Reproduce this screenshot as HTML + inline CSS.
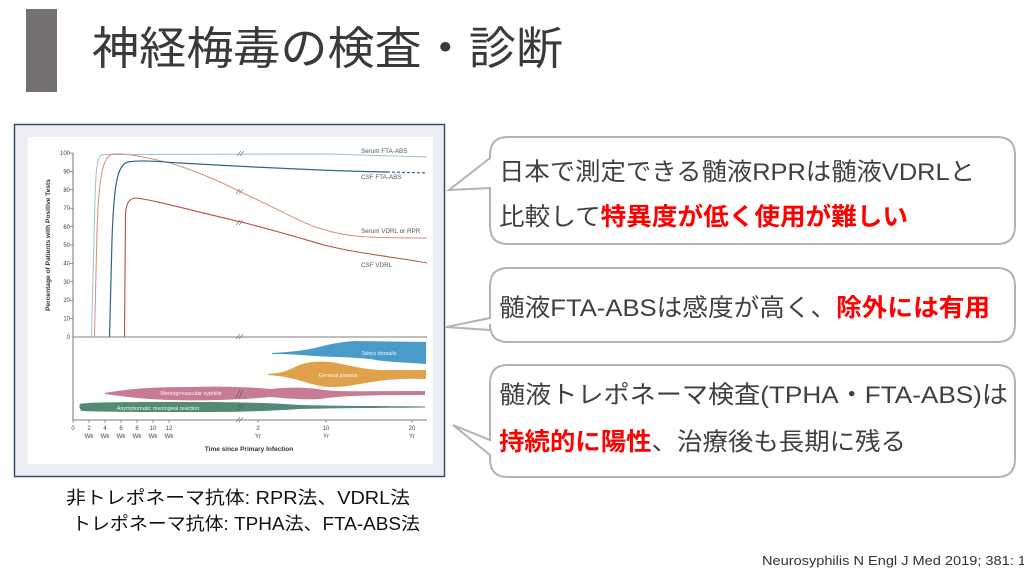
<!DOCTYPE html>
<html><head><meta charset="utf-8"><style>
html,body{margin:0;padding:0;background:#fff;width:1024px;height:576px;overflow:hidden}
svg{display:block}
.jp{font-family:"Liberation Sans","Noto Sans CJK JP",sans-serif}
</style></head><body>
<svg width="1024" height="576" viewBox="0 0 1024 576" xmlns="http://www.w3.org/2000/svg" class="jp">
<rect x="0" y="0" width="1024" height="576" fill="#fff"/>
<rect x="26" y="9" width="31" height="83" fill="#767171"/>
<text x="92" y="64" font-size="45" fill="#3a3a3a" class="jp" textLength="471" lengthAdjust="spacingAndGlyphs">神経梅毒の検査・診断</text>

<rect x="14.5" y="124.5" width="430" height="352" fill="#eceef1" stroke="#3d4b78" stroke-width="1.5"/>
<rect x="28" y="137" width="405" height="327" fill="#fff"/>

<g font-family="Liberation Sans, sans-serif">
<line x1="73" y1="153" x2="73" y2="420" stroke="#555" stroke-width="0.8"/>
<line x1="73" y1="337" x2="427" y2="337" stroke="#555" stroke-width="0.8"/>
<line x1="73" y1="420" x2="427" y2="420" stroke="#555" stroke-width="0.8"/>
<g font-size="6" fill="#444" text-anchor="end">
<text x="70" y="155">100</text><text x="70" y="173.5">90</text><text x="70" y="192">80</text><text x="70" y="210">70</text><text x="70" y="229">60</text><text x="70" y="247">50</text><text x="70" y="265.5">40</text><text x="70" y="284">30</text><text x="70" y="302">20</text><text x="70" y="320.5">10</text><text x="70" y="339">0</text>
</g>
<g stroke="#555" stroke-width="0.6">
<line x1="70" y1="153" x2="73" y2="153"/><line x1="70" y1="171.4" x2="73" y2="171.4"/><line x1="70" y1="189.8" x2="73" y2="189.8"/><line x1="70" y1="208.2" x2="73" y2="208.2"/><line x1="70" y1="226.6" x2="73" y2="226.6"/><line x1="70" y1="245" x2="73" y2="245"/><line x1="70" y1="263.4" x2="73" y2="263.4"/><line x1="70" y1="281.8" x2="73" y2="281.8"/><line x1="70" y1="300.2" x2="73" y2="300.2"/><line x1="70" y1="318.6" x2="73" y2="318.6"/>
<line x1="73" y1="420" x2="73" y2="423"/><line x1="89" y1="420" x2="89" y2="423"/><line x1="105" y1="420" x2="105" y2="423"/><line x1="121" y1="420" x2="121" y2="423"/><line x1="137" y1="420" x2="137" y2="423"/><line x1="153" y1="420" x2="153" y2="423"/><line x1="169" y1="420" x2="169" y2="423"/><line x1="258" y1="420" x2="258" y2="423"/><line x1="326" y1="420" x2="326" y2="423"/><line x1="412" y1="420" x2="412" y2="423"/>
</g>
<text transform="translate(50,245) rotate(-90)" font-size="6.6" font-weight="bold" fill="#333" text-anchor="middle">Percentage of Patients with Positive Tests</text>
<g font-size="6" fill="#444" text-anchor="middle">
<text x="73" y="430">0</text><text x="89" y="430">2</text><text x="105" y="430">4</text><text x="121" y="430">6</text><text x="137" y="430">8</text><text x="153" y="430">10</text><text x="169" y="430">12</text>
<text x="89" y="438">Wk</text><text x="105" y="438">Wk</text><text x="121" y="438">Wk</text><text x="137" y="438">Wk</text><text x="153" y="438">Wk</text><text x="169" y="438">Wk</text>
<text x="258" y="430">2</text><text x="326" y="430">10</text><text x="412" y="430">20</text>
<text x="258" y="438">Yr</text><text x="326" y="438">Yr</text><text x="412" y="438">Yr</text>
</g>
<text x="249" y="451" font-size="6.5" font-weight="bold" fill="#333" text-anchor="middle">Time since Primary Infection</text>

<path d="M272,353 C290,352 300,351 315,348 C330,344 340,342 355,341 L426,342 L426,364 C400,362 385,362 370,359 C350,357 330,357 315,356 C300,355 290,354 272,354 Z" fill="#4b9bca"/>
<path d="M268,374 C280,373 285,372 295,367 C305,362 315,361 330,362 C345,364 360,369 380,370 L426,370 L426,379 C400,378 380,380 360,384 C345,387 330,388 320,386 C305,383 295,377 268,375 Z" fill="#e0a14b"/>
<path d="M105,393 C130,388 160,387 190,387 C220,386 250,387 270,389 C290,387 305,387 325,390 C340,392 360,391 425,391 L425,395 C360,395 340,396 320,399 C300,400 285,398 270,397 C240,400 200,401 170,400 C140,399 120,396 105,394 Z" fill="#c87c93"/>
<path d="M80,404 C85,402 130,402 200,402 C240,402 270,403 300,405 C340,406 380,406 425,406.5 L425,407.5 C380,408 340,408 300,409 C270,411 240,412 200,412 C140,412 100,412 82,411 C79,409 79,406 80,404 Z" fill="#528b73"/>
<g font-size="5.5" fill="#fff" text-anchor="middle" opacity="0.9">
<text x="379" y="355">Tabes dorsalis</text>
<text x="338" y="377">General paresis</text>
<text x="191" y="395">Meningovascular syphilis</text>
<text x="158" y="410">Asymptomatic meningeal reaction</text>
</g>

<path d="M91.5,337 L95,200 C96,160 98,155 104,154.5 L330,154 C370,155 400,156 427,157" fill="none" stroke="#9cc2cf" stroke-width="1"/>
<path d="M94.5,337 L97,230 C99,170 104,155 114,154 C125,153 140,156 170,163 C200,172 225,184 245,194 C280,210 305,225 325,230 C345,236 360,238 427,238" fill="none" stroke="#d48e7d" stroke-width="1"/>
<path d="M109.5,337 L112,240 C114,180 118,165 128,162 C140,160 150,161 180,163 C250,167 330,171 387,172" fill="none" stroke="#2c6788" stroke-width="1.2"/>
<path d="M387,172 L427,173" fill="none" stroke="#2c6788" stroke-width="1.2" stroke-dasharray="3,2"/>
<path d="M124.5,337 L125.5,215 C126,203 129,199 135,198 C150,199 190,210 241,222 C270,229 300,238 324,245 C360,254 395,257 427,263" fill="none" stroke="#b7503f" stroke-width="1.1"/>

<g stroke="#555" stroke-width="0.6" fill="#fff">
<path d="M237,156 L241,151 M240,156 L244,151"/>
<path d="M236,194 L240,189 M239,194 L243,189"/>
<path d="M236,225 L240,220 M239,225 L243,220"/>
<path d="M236,339 L240,334 M239,339 L243,334"/>
<path d="M236,398 L240,390 M239,398 L243,390"/>
<path d="M236,411 L240,404 M239,411 L243,404"/>
<path d="M236,422 L240,417 M239,422 L243,417"/>
</g>
<g font-size="6.3" fill="#555">
<text x="361" y="153">Serum FTA-ABS</text>
<text x="361" y="179">CSF FTA-ABS</text>
<text x="361" y="233">Serum VDRL or RPR</text>
<text x="361" y="267">CSF VDRL</text>
</g>
</g>

<g fill="#fff" stroke="#b3b3b3" stroke-width="2">
<path d="M508,137 H997 Q1015,137 1015,155 V226 Q1015,244 997,244 H508 Q490,244 490,226 V188 L449,190 L490,158 V155 Q490,137 508,137 Z"/>
<path d="M508,268 H997 Q1015,268 1015,286 V324 Q1015,342 997,342 H508 Q490,342 490,324 V330 L446,327 L490,318 V286 Q490,268 508,268 Z"/>
<path d="M508,365 H997 Q1015,365 1015,383 V459 Q1015,477 997,477 H508 Q490,477 490,459 V455 L453,425 L490,440 V383 Q490,365 508,365 Z"/>
</g>
<g font-size="24.5" fill="#404040" class="jp">
<text x="499" y="180" textLength="476" lengthAdjust="spacingAndGlyphs">日本で測定できる髄液RPRは髄液VDRLと</text>
<text x="499" y="225" textLength="409" lengthAdjust="spacingAndGlyphs">比較して<tspan fill="#f00" font-weight="bold">特異度が低く使用が難しい</tspan></text>
<text x="499" y="316" textLength="491" lengthAdjust="spacingAndGlyphs">髄液FTA-ABSは感度が高く、<tspan fill="#f00" font-weight="bold">除外には有用</tspan></text>
<text x="499" y="403" textLength="509" lengthAdjust="spacingAndGlyphs">髄液トレポネーマ検査(TPHA・FTA-ABS)は</text>
<text x="499" y="450" textLength="407" lengthAdjust="spacingAndGlyphs"><tspan fill="#f00" font-weight="bold">持続的に陽性</tspan>、治療後も長期に残る</text>
</g>

<g font-size="18" fill="#111" class="jp">
<text x="66" y="504" textLength="344" lengthAdjust="spacingAndGlyphs">非トレポネーマ抗体: RPR法、VDRL法</text>
<text x="72" y="530" textLength="348" lengthAdjust="spacingAndGlyphs">トレポネーマ抗体: TPHA法、FTA-ABS法</text>
</g>
<text x="762" y="565" font-size="12.5" fill="#333" class="jp" textLength="272" lengthAdjust="spacingAndGlyphs">Neurosyphilis N Engl J Med 2019; 381: 13</text>
</svg>
</body></html>
